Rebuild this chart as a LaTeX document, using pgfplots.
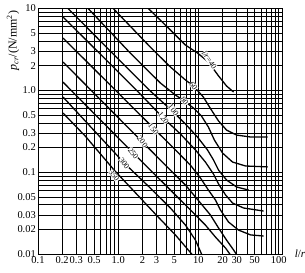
\documentclass[border=0pt]{standalone}
\usepackage{fontspec}
\setmainfont{Liberation Serif}
\usepackage{pgfplots}
\pgfplotsset{compat=1.18}
\tikzset{crv/.style={black, solid, line width=1.3pt, mark=none}}
\begin{document}
\begin{tikzpicture}
\begin{axis}[
  scale only axis, width=244bp, height=245.5bp,
  xmode=log, ymode=log,
  xmin=0.1, xmax=110, ymin=0.01, ymax=10,
  xtick={0.1,0.2,0.3,0.5,1,2,3,5,10,20,30,50,100},
  xticklabels={0.1,0.2,0.3,0.5,1.0,2,3,5,10,20,30,50,100},
  ytick={0.01,0.02,0.03,0.05,0.1,0.2,0.3,0.5,1,2,3,5,10},
  yticklabels={0.01,0.02,0.03,0.05,0.1,0.2,0.3,0.5,1.0,2,3,5,10},
  minor xtick={0.4,0.6,0.7,0.8,0.9,4,6,7,8,9,40,60,70,80,90},
  minor ytick={0.04,0.06,0.07,0.08,0.09,0.4,0.6,0.7,0.8,0.9,4,6,7,8,9},
  grid=both,
  major grid style={black, line width=0.5pt},
  minor grid style={black, line width=0.5pt},
  major tick length=0pt, minor tick length=0pt,
  axis line style={black, line width=0.8pt},
  tick label style={font=\fontsize{10.5}{12}\selectfont},
  xticklabel style={inner sep=2pt},
  yticklabel style={inner sep=2pt},
  xlabel={\textit{l}/\textit{r}},
  xlabel style={at={(axis description cs:1.074,0.0)}, anchor=center, font=\fontsize{11}{12}\selectfont},
  ylabel={\textit{p}\textsubscript{\textit{cr}}/(N/mm\textsuperscript{2})},
  ylabel style={at={(axis description cs:-0.1025,0.87)}, anchor=center, font=\fontsize{12}{13}\selectfont},
  clip=true,
]
% l/r = 40
\addplot[crv] coordinates {(2.37,10) (3.87,6.28) (6.88,3.58) (9.72,2.86) (13.3,2.22) (17.8,1.50) (22.4,1.13) (27.4,0.954)};
% l/r = 60
\addplot[crv] coordinates {(0.866,10) (2.51,3.38) (4.47,1.93) (6.88,1.34) (8.66,1.13) (11.5,0.829) (14.5,0.575) (17.8,0.422) (22.4,0.327) (29.9,0.284) (44.7,0.269) (72.9,0.269)};
% l/r = 80
\addplot[crv] coordinates {(0.422,10) (1.41,2.86) (3.35,1.23) (5.16,0.877) (6.68,0.741) (8.66,0.608) (10.9,0.486) (13.3,0.356) (15.8,0.247) (20.0,0.171) (26.6,0.133) (38.7,0.119) (72.9,0.116)};
% l/r = 100
\addplot[crv] coordinates {(0.237,10) (0.794,3.03) (2.51,0.981) (4.87,0.543) (6.88,0.388) (9.72,0.269) (12.96,0.187) (15.4,0.141) (17.8,0.106) (22.4,0.0802) (29.9,0.0659) (42.2,0.0605)};
% l/r = 120
\addplot[crv] coordinates {(0.205,7.87) (0.596,2.78) (1.88,0.902) (3.65,0.459) (5.96,0.293) (9.17,0.187) (12.2,0.133) (15.4,0.0949) (17.8,0.0717) (21.8,0.0526) (26.6,0.042) (36.5,0.0365) (64.9,0.0335)};
% l/r = 150
\addplot[crv] coordinates {(0.205,4.36) (2.74,0.347) (5.16,0.187) (7.94,0.122) (10.6,0.0848) (13.3,0.0605) (16.3,0.0457) (18.8,0.0345) (23.7,0.0246) (31.6,0.0196) (44.7,0.0171) (64.9,0.0166)};
% l/r = 200
\addplot[crv] coordinates {(0.205,2.22) (2.0,0.234) (3.87,0.122) (6.88,0.0697) (10.6,0.042) (14.1,0.030) (17.8,0.0208) (22.4,0.0148) (27.4,0.0112) (30.7,0.00945)};
% l/r = 250
\addplot[crv] coordinates {(0.205,1.26) (1.54,0.171) (3.35,0.0802) (5.96,0.0457) (9.17,0.030) (12.2,0.0226) (16.3,0.0161) (21.8,0.0118) (25.1,0.00972)};
% l/r = 300
\addplot[crv] coordinates {(0.205,0.829) (1.19,0.129) (2.51,0.064) (4.47,0.0365) (6.88,0.0226) (9.17,0.0148) (11.2,0.00945)};
% l/r = 350
\addplot[crv] coordinates {(0.205,0.528) (0.387,0.277) (0.891,0.106) (2.90,0.0308) (5.16,0.0171) (8.66,0.00945)};

\tikzset{curvelabel/.style={fill=white, inner sep=0.3pt, font=\fontsize{8}{8}\selectfont}}
\node[curvelabel, rotate=-55] at (axis cs:13.7,2.35) {\textit{l}/\textit{r}=40};
\node[curvelabel, rotate=-52] at (axis cs:8.66,1.13) {60};
\node[curvelabel, rotate=-52] at (axis cs:6.68,0.741) {80};
\node[curvelabel, rotate=-52] at (axis cs:4.87,0.575) {100};
\node[curvelabel, rotate=-52] at (axis cs:3.65,0.459) {120};
\node[curvelabel, rotate=-52] at (axis cs:2.74,0.337) {150};
\node[curvelabel, rotate=-52] at (axis cs:2.0,0.234) {200};
\node[curvelabel, rotate=-52] at (axis cs:1.54,0.171) {250};
\node[curvelabel, rotate=-52] at (axis cs:1.19,0.129) {300};
\node[curvelabel, rotate=-52] at (axis cs:0.891,0.0906) {350};
\end{axis}
\pgfresetboundingbox
\path ([shift={(-38bp,-18bp)}]current axis.south west) rectangle ([shift={(23bp,8.5bp)}]current axis.north east);
\end{tikzpicture}
\end{document}
